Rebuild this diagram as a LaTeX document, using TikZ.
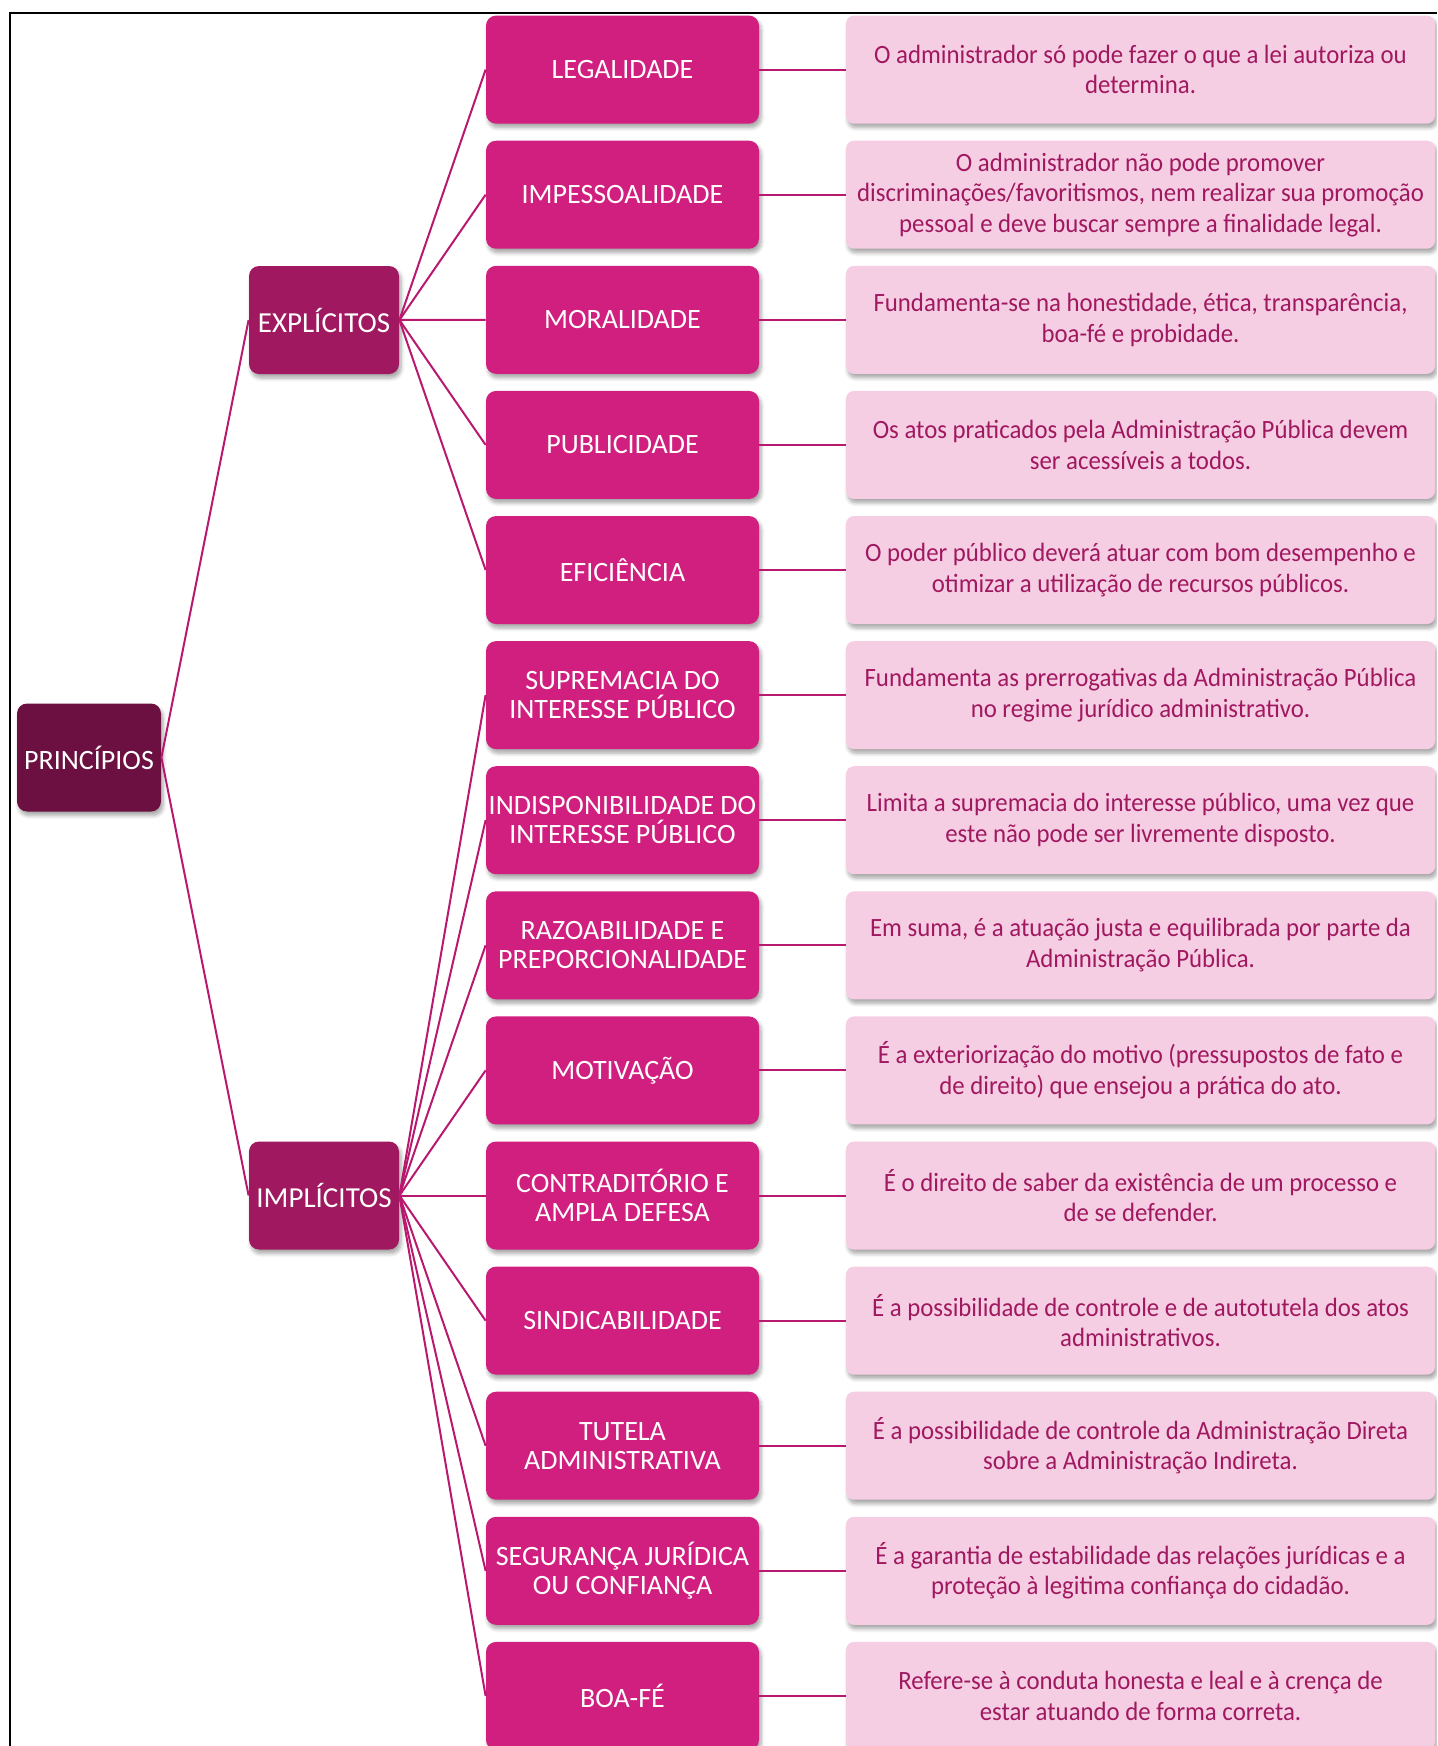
\documentclass[tikz,border=0pt]{standalone}
\usepackage{fontspec}
\setmainfont{Carlito}
\newfontfamily\descfont{Carlito}[FakeStretch=0.94]
\usepackage{xcolor}
\usetikzlibrary{shadows.blur}

\definecolor{rootcol}{HTML}{6B1040}
\definecolor{groupcol}{HTML}{A0185F}
\definecolor{itemcol}{HTML}{D11F7F}
\definecolor{desccol}{HTML}{F6CEE4}
\definecolor{desctext}{HTML}{A0185F}
\definecolor{linkcol}{HTML}{B8196F}

\tikzset{
  boxshadow/.style={blur shadow={shadow xshift=1pt, shadow yshift=-2pt, shadow blur steps=6, shadow opacity=35}},
  rootbox/.style={boxshadow, fill=rootcol, rounded corners=5pt, text=white, minimum width=72pt, minimum height=54pt, inner sep=1pt, font=\fontsize{14}{14.5}\selectfont},
  groupbox/.style={boxshadow, fill=groupcol, rounded corners=5pt, text=white, minimum width=75pt, minimum height=54pt, inner sep=1pt, font=\fontsize{14.5}{14.5}\selectfont},
  itembox/.style={boxshadow, fill=itemcol, rounded corners=5pt, text=white, minimum width=136.5pt, minimum height=54pt, inner sep=1pt, align=center, font=\fontsize{14}{14.5}\selectfont},
  descbox/.style={boxshadow, fill=desccol, rounded corners=4pt, text=desctext, minimum width=294.5pt, minimum height=54pt, inner sep=1pt, align=center, font=\descfont\fontsize{13.2}{15.3}\selectfont},
  link/.style={draw=linkcol, line width=1pt}
}

\begin{document}
\begin{tikzpicture}[x=0.5pt, y=-0.5pt]
    \useasboundingbox (0,0) rectangle (1437,1746);
    \clip (0,0) rectangle (1437,1746);
    % Frame
    \draw[line width=1pt] (10,1746) -- (10,13) -- (1437,13);
    % Root and groups
    \node[rootbox] (princ) at (89,757.5) {PRINCÍPIOS};
    \node[groupbox] (expl) at (324,320) {EXPLÍCITOS};
    \node[groupbox] (impl) at (324,1195.5) {IMPLÍCITOS};
    % Principles
    \node[itembox] (leg) at (622.5,69.6) {LEGALIDADE};
    \node[itembox] (imp) at (622.5,194.7) {IMPESSOALIDADE};
    \node[itembox] (mor) at (622.5,319.8) {MORALIDADE};
    \node[itembox] (pub) at (622.5,444.9) {PUBLICIDADE};
    \node[itembox] (efi) at (622.5,570.0) {EFICIÊNCIA};
    \node[itembox] (sup) at (622.5,695.1) {SUPREMACIA DO\\INTERESSE PÚBLICO};
    \node[itembox] (ind) at (622.5,820.2) {INDISPONIBILIDADE DO\\INTERESSE PÚBLICO};
    \node[itembox] (raz) at (622.5,945.3) {RAZOABILIDADE E\\PREPORCIONALIDADE};
    \node[itembox] (mot) at (622.5,1070.4) {MOTIVAÇÃO};
    \node[itembox] (con) at (622.5,1195.5) {CONTRADITÓRIO E\\AMPLA DEFESA};
    \node[itembox] (sin) at (622.5,1320.6) {SINDICABILIDADE};
    \node[itembox] (tut) at (622.5,1445.7) {TUTELA\\ADMINISTRATIVA};
    \node[itembox] (seg) at (622.5,1570.8) {SEGURANÇA JURÍDICA\\OU CONFIANÇA};
    \node[itembox] (boa) at (622.5,1695.9) {BOA-FÉ};
    % Descriptions
    \node[descbox] (legD) at (1140.5,69.6) {O administrador só pode fazer o que a lei autoriza ou\\determina.};
    \node[descbox] (impD) at (1140.5,194.7) {O administrador não pode promover\\discriminações/favoritismos, nem realizar sua promoção\\pessoal e deve buscar sempre a finalidade legal.};
    \node[descbox] (morD) at (1140.5,319.8) {Fundamenta-se na honestidade, ética, transparência,\\boa-fé e probidade.};
    \node[descbox] (pubD) at (1140.5,444.9) {Os atos praticados pela Administração Pública devem\\ser acessíveis a todos.};
    \node[descbox] (efiD) at (1140.5,570.0) {O poder público deverá atuar com bom desempenho e\\otimizar a utilização de recursos públicos.};
    \node[descbox] (supD) at (1140.5,695.1) {Fundamenta as prerrogativas da Administração Pública\\no regime jurídico administrativo.};
    \node[descbox] (indD) at (1140.5,820.2) {Limita a supremacia do interesse público, uma vez que\\este não pode ser livremente disposto.};
    \node[descbox] (razD) at (1140.5,945.3) {Em suma, é a atuação justa e equilibrada por parte da\\Administração Pública.};
    \node[descbox] (motD) at (1140.5,1070.4) {É a exteriorização do motivo (pressupostos de fato e\\de direito) que ensejou a prática do ato.};
    \node[descbox] (conD) at (1140.5,1195.5) {É o direito de saber da existência de um processo e\\de se defender.};
    \node[descbox] (sinD) at (1140.5,1320.6) {É a possibilidade de controle e de autotutela dos atos\\administrativos.};
    \node[descbox] (tutD) at (1140.5,1445.7) {É a possibilidade de controle da Administração Direta\\sobre a Administração Indireta.};
    \node[descbox] (segD) at (1140.5,1570.8) {É a garantia de estabilidade das relações jurídicas e a\\proteção à legitima confiança do cidadão.};
    \node[descbox] (boaD) at (1140.5,1695.9) {Refere-se à conduta honesta e leal e à crença de\\estar atuando de forma correta.};
    % Links
    \draw[link] (princ.east) -- (expl.west);
    \draw[link] (princ.east) -- (impl.west);
    \draw[link] (expl.east) -- (leg.west);
    \draw[link] (expl.east) -- (imp.west);
    \draw[link] (expl.east) -- (mor.west);
    \draw[link] (expl.east) -- (pub.west);
    \draw[link] (expl.east) -- (efi.west);
    \draw[link] (impl.east) -- (sup.west);
    \draw[link] (impl.east) -- (ind.west);
    \draw[link] (impl.east) -- (raz.west);
    \draw[link] (impl.east) -- (mot.west);
    \draw[link] (impl.east) -- (con.west);
    \draw[link] (impl.east) -- (sin.west);
    \draw[link] (impl.east) -- (tut.west);
    \draw[link] (impl.east) -- (seg.west);
    \draw[link] (impl.east) -- (boa.west);
    \draw[link] (leg.east) -- (legD.west);
    \draw[link] (imp.east) -- (impD.west);
    \draw[link] (mor.east) -- (morD.west);
    \draw[link] (pub.east) -- (pubD.west);
    \draw[link] (efi.east) -- (efiD.west);
    \draw[link] (sup.east) -- (supD.west);
    \draw[link] (ind.east) -- (indD.west);
    \draw[link] (raz.east) -- (razD.west);
    \draw[link] (mot.east) -- (motD.west);
    \draw[link] (con.east) -- (conD.west);
    \draw[link] (sin.east) -- (sinD.west);
    \draw[link] (tut.east) -- (tutD.west);
    \draw[link] (seg.east) -- (segD.west);
    \draw[link] (boa.east) -- (boaD.west);
  \end{tikzpicture}
\end{document}
